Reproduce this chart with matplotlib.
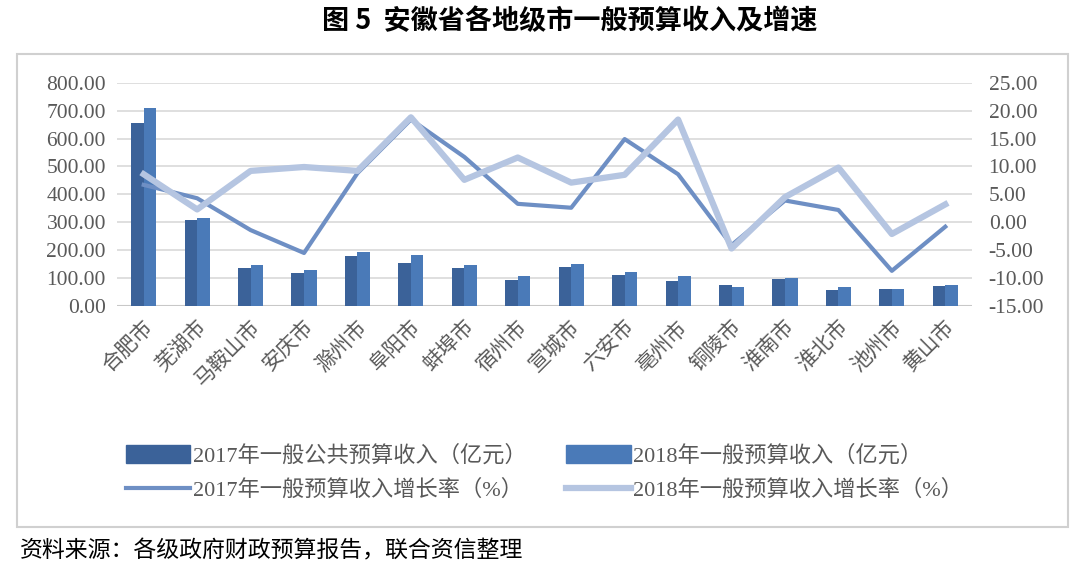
import numpy as np
import matplotlib
matplotlib.use('Agg')
import matplotlib.pyplot as plt
from matplotlib.patches import Rectangle
from matplotlib.lines import Line2D

plt.rcParams['font.family'] = ['Liberation Serif', 'Noto Sans CJK SC']

cities = ['合肥市', '芜湖市', '马鞍山市', '安庆市', '滁州市', '阜阳市', '蚌埠市', '宿州市',
          '宣城市', '六安市', '亳州市', '铜陵市', '淮南市', '淮北市', '池州市', '黄山市']
rev2017 = [655, 307, 135, 117, 180, 155, 137, 93, 139, 111, 91, 74, 98, 56, 61, 72]
rev2018 = [711, 314, 148, 130, 195, 184, 148, 108, 150, 121, 109, 69, 101, 67, 61, 74]
growth2017 = [6.7, 4.3, -1.4, -5.5, 8.8, 18.4, 11.7, 3.3, 2.6, 14.9, 8.6, -4.1, 3.9, 2.2, -8.7, -0.8]
growth2018 = [8.6, 2.3, 9.2, 9.9, 9.2, 18.8, 7.6, 11.6, 7.1, 8.5, 18.4, -4.7, 4.5, 9.8, -2.1, 3.2]

C17_BAR = '#3b6299'
C18_BAR = '#4a7ab8'
C17_LINE = '#6e8fc4'
C18_LINE = '#b5c5e1'
GREY = '#595959'

fig = plt.figure(figsize=(10.8, 5.72), dpi=100)
fig.patches.append(Rectangle((17/1080, 1-527/572), (1068-17)/1080, (527-54)/572,
                             transform=fig.transFigure, fill=False, ec='#d0d0d0', lw=1.5))
ax = fig.add_axes([117/1080, 1-306/572, (972-117)/1080, (306-82.7)/572])
ax2 = ax.twinx()

x = np.arange(len(cities))
w = 0.235
ax.bar(x - w/2, rev2017, w, color=C17_BAR, zorder=2)
ax.bar(x + w/2, rev2018, w, color=C18_BAR, zorder=2)
ax.set_ylim(0, 800)
ax.set_yticks(np.arange(0, 801, 100))
ax.set_yticklabels([f'{v:.2f}' for v in np.arange(0, 801, 100)])
ax.set_xlim(-0.5, len(cities) - 0.5)
ax.set_xticks(x)
ax.set_xticklabels(cities, rotation=45, ha='right', rotation_mode='anchor', fontsize=15)
ax.grid(axis='y', color='#d9d9d9', lw=1.2, zorder=0)
ax.set_axisbelow(True)

ax2.plot(x, growth2017, color=C17_LINE, lw=3, zorder=3)
ax2.plot(x, growth2018, color=C18_LINE, lw=4.5, zorder=3)
ax2.set_ylim(-15, 25)
ax2.set_yticks(np.arange(-15, 26, 5))
ax2.set_yticklabels([f'{v:.2f}' for v in np.arange(-15, 26, 5)])

for a in (ax, ax2):
    for s in a.spines.values():
        s.set_visible(False)
    a.tick_params(length=0, labelsize=15.5, colors=GREY)
ax.tick_params(axis='y', pad=8)
ax2.tick_params(axis='y', pad=12)
ax.tick_params(axis='x', pad=8, labelsize=15)
ax.axhline(0, color='#c8c8c8', lw=1.5, zorder=1)

# column-wise fill: col 1 = 2017 items, col 2 = 2018 items
handles = [Rectangle((0, 0), 1, 1, color=C17_BAR), Line2D([], [], color=C17_LINE, lw=3),
           Rectangle((0, 0), 1, 1, color=C18_BAR), Line2D([], [], color=C18_LINE, lw=4.5)]
labels = ['2017年一般公共预算收入（亿元）', '2017年一般预算收入增长率（%）',
          '2018年一般预算收入（亿元）', '2018年一般预算收入增长率（%）']
fig.legend(handles, labels, ncol=2, loc='upper left', bbox_to_anchor=(106/1080, 1-425/572),
           frameon=False, fontsize=16, labelcolor=GREY, handlelength=2.9, handleheight=0.9,
           handletextpad=0.1, columnspacing=1.8, labelspacing=0.55)

fig.text(570/1080, 1-21/572, '图 5  安徽省各地级市一般预算收入及增速', ha='center', va='center',
         fontsize=19.5, fontweight='bold', family=['Noto Sans CJK SC'])
fig.text(20/1080, 1-551/572, '资料来源：各级政府财政预算报告，联合资信整理', ha='left', va='center',
         fontsize=16.5, family=['Noto Sans CJK SC'])

fig.savefig('out.png', dpi=100)
